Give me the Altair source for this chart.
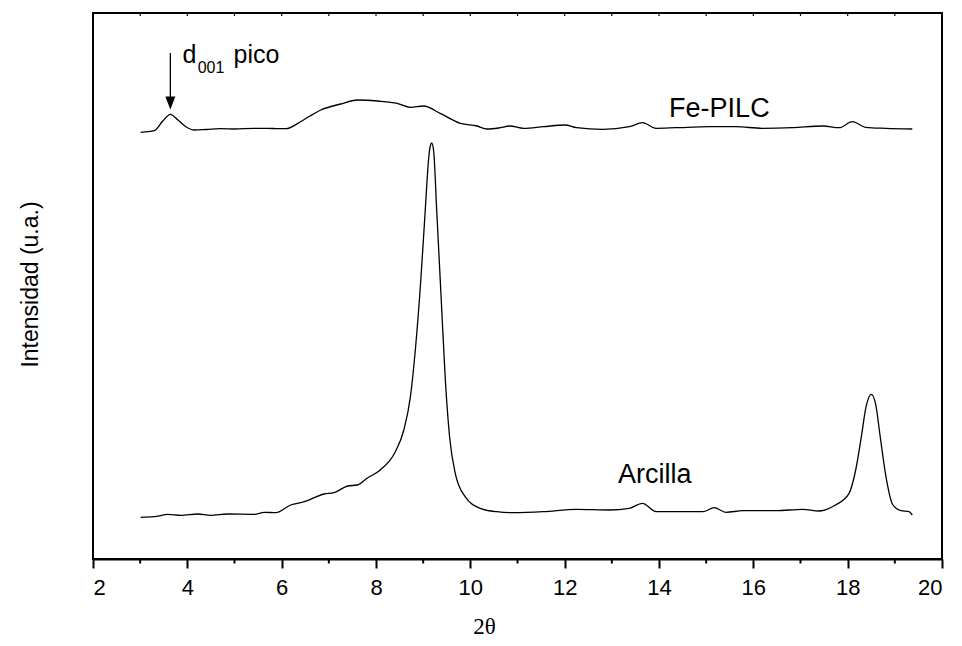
import altair as alt
import pandas as pd

# ---- data ----
fe_x = [3.01, 3.30, 3.48, 3.64, 3.80, 3.97, 4.15, 4.40, 4.71, 5.00, 5.42, 5.80, 6.09,
        6.40, 6.60, 6.83, 7.25, 7.60, 8.03, 8.45, 8.73, 9.01, 9.36, 9.79, 10.14, 10.35,
        10.60, 10.84, 11.13, 11.55, 12.01, 12.25, 12.81, 13.37, 13.65, 13.94, 14.36,
        15.07, 15.63, 16.19, 16.83, 17.47, 17.82, 18.10, 18.38, 18.81, 19.37]
fe_y = [426.7, 428.3, 438, 444.7, 439, 432.3, 429, 429.5, 430.3, 430, 430.7, 430.5, 430.3,
        437.3, 443, 449, 455, 459, 458, 455.7, 451.7, 453, 445.7, 435.7, 433, 430,
        431, 433, 430.7, 432.3, 434, 431.3, 429.7, 432.3, 436.3, 430.7, 431.3,
        432.3, 432.3, 430.7, 431.3, 433, 431.3, 437.3, 431.7, 430.7, 430]

ar_x = [3.01, 3.30, 3.59, 3.87, 4.22, 4.50, 4.85, 5.42, 5.63, 5.88, 6.19, 6.48, 6.90,
        7.11, 7.40, 7.60, 7.81, 8.09, 8.41, 8.59, 8.73, 8.84, 8.95, 9.04, 9.12, 9.15,
        9.18, 9.22, 9.29, 9.38, 9.47, 9.56, 9.68, 9.89, 10.21, 10.56, 10.92, 11.55,
        12.25, 12.95, 13.37, 13.65, 13.94, 14.36, 14.93, 15.17, 15.42, 15.78, 16.48,
        17.04, 17.39, 17.74, 18.03, 18.17, 18.29, 18.39, 18.50, 18.59, 18.69, 18.80,
        18.96, 19.13, 19.30, 19.37]
ar_y = [41.7, 42.3, 44.7, 43.7, 45, 43.7, 45, 44.7, 46.7, 46.3, 54, 57.3, 65,
        66.3, 73, 74, 80.7, 89, 107.3, 129, 162.3, 212.3, 279, 345.7, 402.3, 413,
        416, 409, 345.7, 262.3, 179, 122.3, 85.7, 62.3, 50.7, 47.3, 46.3, 47.3,
        49.7, 49, 50.7, 55.7, 47.3, 47.3, 47.3, 51.3, 46.7, 48.3, 48.3,
        49.7, 48, 54, 65.7, 89, 122.3, 152.3, 164.7, 155.7, 122.3, 85.7,
        54, 48.3, 47.3, 44]

major_ticks = [2, 4, 6, 8, 10, 12, 14, 16, 18, 20]
minor_ticks = [3, 5, 7, 9, 11, 13, 15, 17, 19]
top_ticks = list(range(3, 20))

labels_big = ["Fe-PILC", "Arcilla"]
labels_big_x = [15.28, 13.91]
labels_big_y = [442, 76]

arrow_x = [3.64]
arrow_top = [506]
arrow_bottom = [460]
arrow_head = [456]

W, H = 849, 546
SANS = "Liberation Sans, Arial, sans-serif"

curves = pd.concat([
    pd.DataFrame({"x": fe_x, "y": fe_y, "serie": "Fe-PILC"}),
    pd.DataFrame({"x": ar_x, "y": ar_y, "serie": "Arcilla"}),
])

xscale = alt.Scale(domain=[2, 20], nice=False, zero=False)
yscale = alt.Scale(domain=[0, 546], nice=False, zero=False)

lines = alt.Chart(curves).mark_line(
    interpolate="monotone", color="black", strokeWidth=1.3
).encode(
    x=alt.X("x:Q", scale=xscale, axis=alt.Axis(
        values=major_ticks, format="d", title="2θ", grid=False,
        labelFont=SANS, labelFontSize=22, labelColor="black", labelPadding=9,
        tickSize=9, tickWidth=2, tickColor="black", domainColor="black", domainWidth=2,
        titleFont="Liberation Serif", titleFontSize=23, titleFontWeight="normal",
        titleColor="black", titleX=391, titleY=74, titleAlign="center",
        titleBaseline="alphabetic")),
    y=alt.Y("y:Q", scale=yscale, axis=alt.Axis(
        labels=False, ticks=False, domain=False, grid=False,
        title="Intensidad (u.a.)", titleFont=SANS, titleFontSize=23,
        titleFontWeight="normal", titleColor="black", titleAngle=270,
        titleX=-56, titleY=271, titleAlign="center", titleBaseline="alphabetic")),
    detail="serie:N",
)

big_text = alt.Chart(pd.DataFrame({"t": labels_big, "x": labels_big_x, "y": labels_big_y})).mark_text(
    font=SANS, fontSize=27, color="black", align="center", baseline="alphabetic"
).encode(x=alt.X("x:Q", scale=xscale), y=alt.Y("y:Q", scale=yscale), text="t:N")

ann = pd.DataFrame({"t": ["d", "pico"], "x": [3.90, 4.98], "y": [496, 496]})
ann_text = alt.Chart(ann).mark_text(
    font=SANS, fontSize=25, color="black", align="left", baseline="alphabetic"
).encode(x=alt.X("x:Q", scale=xscale), y=alt.Y("y:Q", scale=yscale), text="t:N")

sub_text = alt.Chart(pd.DataFrame({"t": ["001"], "x": [4.22], "y": [486]})).mark_text(
    font=SANS, fontSize=16, color="black", align="left", baseline="alphabetic"
).encode(x=alt.X("x:Q", scale=xscale), y=alt.Y("y:Q", scale=yscale), text="t:N")

arrow = alt.Chart(pd.DataFrame({"x": arrow_x, "y": arrow_top, "y2": arrow_bottom})).mark_rule(
    color="black", strokeWidth=1.3
).encode(x=alt.X("x:Q", scale=xscale), y=alt.Y("y:Q", scale=yscale), y2="y2:Q")

head = alt.Chart(pd.DataFrame({"x": arrow_x, "y": arrow_head})).mark_point(
    shape="M-1,-1.3L1,-1.3L0,1.3Z", filled=True, color="black", size=100, opacity=1,
    strokeWidth=0
).encode(x=alt.X("x:Q", scale=xscale), y=alt.Y("y:Q", scale=yscale))

minor = alt.Chart(pd.DataFrame({"x": minor_ticks})).mark_rule(
    color="black", strokeWidth=2
).encode(x=alt.X("x:Q", scale=xscale), y=alt.value(H), y2=alt.value(H + 4.5))

top = alt.Chart(pd.DataFrame({"x": top_ticks})).mark_rule(
    color="black", strokeWidth=1.2
).encode(x=alt.X("x:Q", scale=xscale), y=alt.value(0), y2=alt.value(3))

chart = alt.layer(lines, big_text, ann_text, sub_text, arrow, head, minor, top).properties(
    width=W, height=H,
    autosize=alt.AutoSizeParams(type="none"),
    padding={"left": 85, "top": 5, "right": 12, "bottom": 79},
    background="white",
).configure_view(stroke="black", strokeWidth=2)

chart.save("out.html", embed_options={"renderer": "svg", "actions": False})
